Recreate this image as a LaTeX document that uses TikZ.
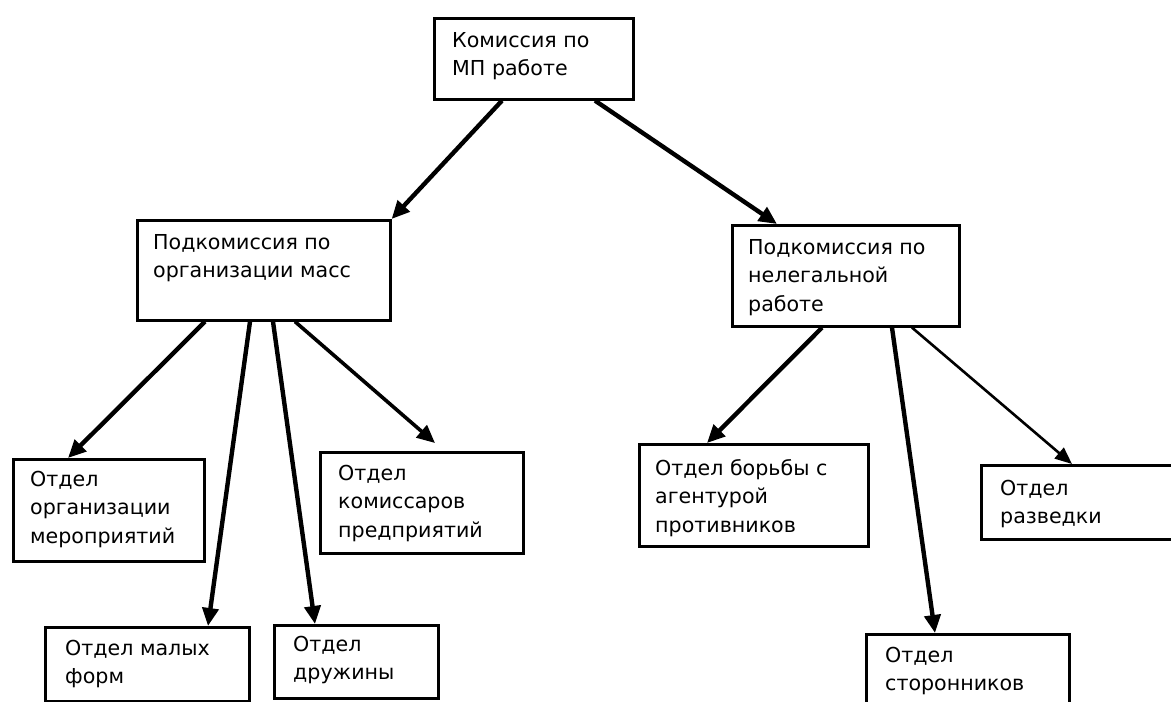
\documentclass[tikz,border=0pt]{standalone}
\usepackage{fontspec}
\setmainfont{DejaVu Sans}
\usetikzlibrary{arrows.meta,calc}
\begin{document}
\begin{tikzpicture}[x=1pt,y=-1pt,
  box/.style={draw=black, line width=2.6pt, inner sep=0pt, anchor=north west},
  lbl/.style={anchor=north west, inner sep=0pt, align=left,
    font=\fontsize{20.6}{28.5}\selectfont},
  arr/.style={line width=4.4pt, -{Triangle[length=18pt,width=16pt]}},
  thinarr/.style={line width=2.6pt, -{Triangle[length=17pt,width=14pt]}}]
\useasboundingbox (0,0) rectangle (1171,702);
\clip (0,0) rectangle (1171,702);
% boxes
\node[box, minimum width=199, minimum height=81] (top) at (433,17) {};
\node[box, minimum width=253, minimum height=100] (ls) at (136,219) {};
\node[box, minimum width=227, minimum height=101] (rs) at (731,224) {};
\node[box, minimum width=191, minimum height=102] (o1) at (12,458) {};
\node[box, minimum width=203, minimum height=101] (o2) at (319,451) {};
\node[box, minimum width=204, minimum height=74] (o3) at (44,626) {};
\node[box, minimum width=164, minimum height=73] (o4) at (273,624) {};
\node[box, minimum width=229, minimum height=102] (o5) at (638,443) {};
\node[box, minimum width=210, minimum height=74] (o6) at (980,464) {};
\node[box, minimum width=203, minimum height=90] (o7) at (865,633) {};
% labels
\node[lbl] (ttop) at ($(top.north west)+(19,15)$) {Комиссия по\\МП работе};
\node[lbl] (tls) at ($(ls.north west)+(17,15)$) {Подкомиссия по\\организации масс};
\node[lbl] (trs) at ($(rs.north west)+(17,15)$) {Подкомиссия по\\нелегальной\\работе};
\node[lbl] (to1) at ($(o1.north west)+(18,13)$) {Отдел\\организации\\мероприятий};
\node[lbl] (to2) at ($(o2.north west)+(19,14)$) {Отдел\\комиссаров\\предприятий};
\node[lbl] (to3) at ($(o3.north west)+(21,14)$) {Отдел малых\\форм};
\node[lbl] (to4) at ($(o4.north west)+(20,12)$) {Отдел\\дружины};
\node[lbl] (to5) at ($(o5.north west)+(17,16)$) {Отдел борьбы с\\агентурой\\противников};
\node[lbl] (to6) at ($(o6.north west)+(20,16)$) {Отдел\\разведки};
\node[lbl] (to7) at ($(o7.north west)+(20,14)$) {Отдел\\сторонников};
% connector end points
\coordinate (a1) at ($(top.south west)+(69,0)$);
\coordinate (a2) at ($(top.south west)+(162,0)$);
\coordinate (b1) at ($(ls.south west)+(69,0)$);
\coordinate (b2) at ($(ls.south west)+(114,0)$);
\coordinate (b3) at ($(ls.south west)+(137,0)$);
\coordinate (b4) at ($(ls.south west)+(159,0)$);
\coordinate (c1) at ($(rs.south west)+(91,0)$);
\coordinate (c2) at ($(rs.south west)+(161,0)$);
\coordinate (c3) at ($(rs.south west)+(181,0)$);
\coordinate (t2) at ($(o2.north west)+(116,-8)$);
% connectors
\draw[arr] (a1) -- (ls.north east);
\draw[arr] (a2) -- ($(rs.north west)+(46,0)$);
\draw[arr] (b1) -- ($(o1.north west)+(56,0)$);
\draw[arr] (b2) -- ($(o3.north west)+(164,0)$);
\draw[arr] (b3) -- ($(o4.north west)+(42,0)$);
\draw[arr, line width=3.6pt] (b4) -- (t2);
\draw[arr] (c1) -- ($(o5.north west)+(69,0)$);
\draw[arr] (c2) -- ($(o7.north west)+(70,0)$);
\draw[thinarr] (c3) -- ($(o6.north west)+(92,0)$);
\end{tikzpicture}
\end{document}
